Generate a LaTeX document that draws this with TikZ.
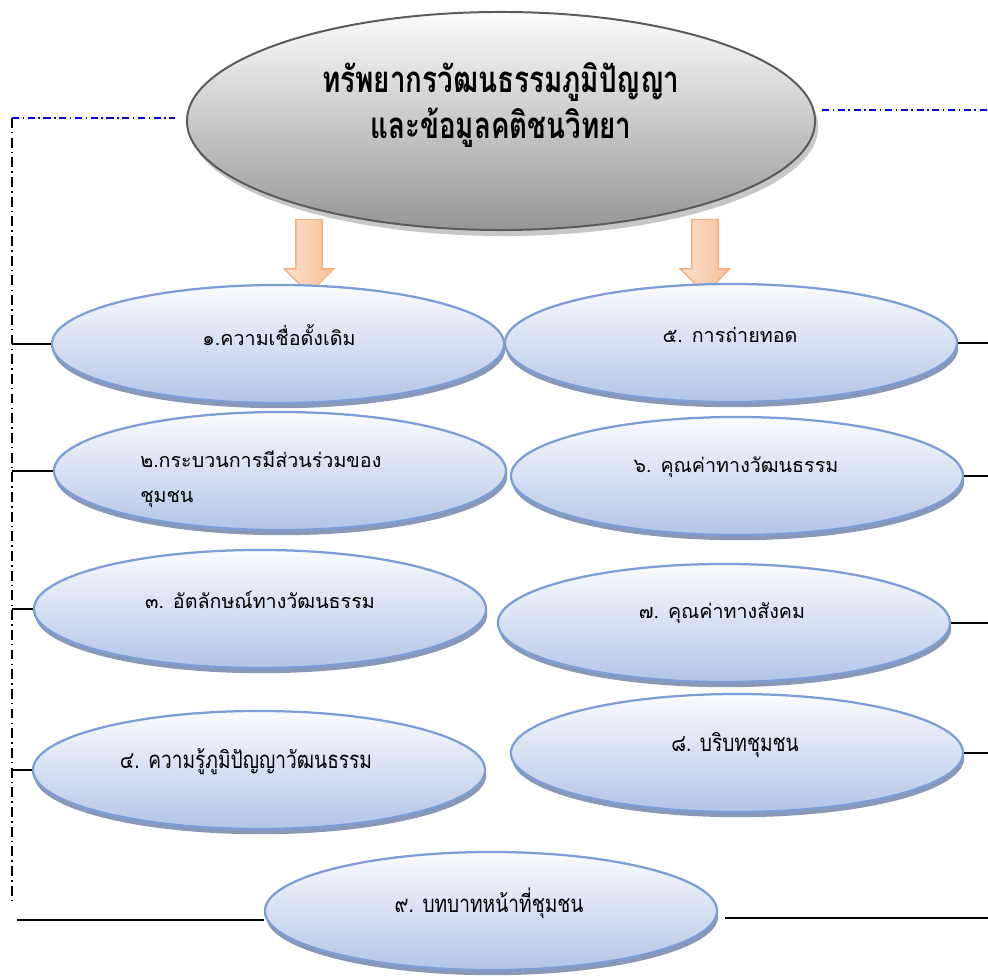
\documentclass[tikz,border=0pt]{standalone}
\usepackage{fontspec}
\newfontfamily\thaifont[Script=Thai]{Loma}
\usetikzlibrary{shapes.geometric,shapes.arrows,shadows,calc}
\tikzset{>=latex}
\definecolor{bubline}{RGB}{124,157,213}
\definecolor{bubtop}{RGB}{250,251,254}
\definecolor{bubbot}{RGB}{178,197,230}
\definecolor{bubshad}{RGB}{136,152,182}
\definecolor{topline}{RGB}{90,90,90}
\definecolor{toptop}{RGB}{252,252,252}
\definecolor{topbot}{RGB}{150,150,150}
\definecolor{arrline}{RGB}{244,177,131}
\definecolor{arrfill}{RGB}{247,190,150}
\definecolor{linkblue}{RGB}{0,0,230}
\tikzstyle{bubble}=[ellipse,draw=bubline,line width=1.6pt,top color=bubtop,bottom color=bubbot,minimum width=11.3cm,minimum height=2.95cm,inner sep=0pt,drop shadow={shadow xshift=0.03cm,shadow yshift=-0.13cm,fill=bubshad,opacity=1}]
\tikzstyle{topbubble}=[ellipse,draw=topline,line width=1.4pt,top color=toptop,bottom color=topbot,minimum width=15.7cm,minimum height=5.45cm,inner sep=0pt,drop shadow={shadow xshift=0.08cm,shadow yshift=-0.15cm,fill=black!22,opacity=1}]
\tikzstyle{blockarr}=[single arrow,draw=arrline,line width=1pt,left color=arrfill!45,right color=arrfill,rotate=-90,minimum height=1.85cm,inner xsep=0pt,inner ysep=0.31cm,text height=0pt,text depth=0pt,single arrow head extend=0.29cm]
\tikzstyle{itemtxt}=[font=\thaifont\fontsize{14}{25}\selectfont,inner sep=0pt]
\tikzstyle{narrowtxt}=[font=\thaifont\fontsize{17}{25}\selectfont,inner sep=0pt]
\tikzstyle{titletxt}=[font=\thaifont\bfseries\fontsize{26}{33}\selectfont,inner sep=0pt,align=center]
\tikzstyle{link}=[draw=black,line width=1.2pt]
\tikzstyle{bluedash}=[draw=linkblue,line width=1pt,dash pattern=on 5pt off 2.5pt on 1.2pt off 2.5pt]
\tikzstyle{blackdash}=[draw=black,line width=0.9pt,dash pattern=on 7pt off 3pt on 1pt off 3pt]

\begin{document}
\begin{tikzpicture}[x=0.025cm,y=-0.025cm]
	\useasboundingbox (0,0) rectangle (988,977);
	\def \xl {12}

	\node[topbubble] (top) at (501,121) {};
	\node[titletxt] (title) at (501,105) {\scalebox{0.76}[1]{ทรัพยากรวัฒนธรรมภูมิปัญญา}\\\scalebox{0.76}[1]{และข้อมูลคติชนวิทยา}};

	\node[blockarr] (arr1) at (309,250) {};
	\node[blockarr] (arr2) at (705,250) {};

	\node[bubble] (b1) at (278,344) {};
	\node[bubble] (b2) at (280,471) {};
	\node[bubble] (b3) at (260,609) {};
	\node[bubble] (b4) at (259,770) {};
	\node[bubble] (b5) at (731,343) {};
	\node[bubble] (b6) at (737,476) {};
	\node[bubble] (b7) at (724,623) {};
	\node[bubble] (b8) at (737,753) {};
	\node[bubble] (b9) at (491,911) {};

	\node[itemtxt] (t1) at (279,335) {๑.ความเชื่อดั้งเดิม};
	\node[itemtxt,anchor=west,align=left] (t2) at (140,479) {๒.กระบวนการมีส่วนร่วมของ\\ชุมชน};
	\node[itemtxt] (t3) at (260,600) {๓. อัตลักษณ์ทางวัฒนธรรม};
	\node[narrowtxt] (t4) at (246,762) {\scalebox{0.8}[1]{๔. ความรู้ภูมิปัญญาวัฒนธรรม}};
	\node[itemtxt] (t5) at (730,335) {๕. การถ่ายทอด};
	\node[itemtxt] (t6) at (736,467) {๖. คุณค่าทางวัฒนธรรม};
	\node[itemtxt] (t7) at (722,613) {๗. คุณค่าทางสังคม};
	\node[narrowtxt] (t8) at (735,745) {\scalebox{0.8}[1]{๘. บริบทชุมชน}};
	\node[narrowtxt] (t9) at (489,903) {\scalebox{0.8}[1]{๙. บทบาทหน้าที่ชุมชน}};

	\coordinate (lt) at (\xl,118);
	\coordinate (lb) at (\xl,905);
	\coordinate (lte) at (175,118);
	\coordinate (rts) at (822,110);
	\coordinate (rte) at (988,110);
	\coordinate (rr) at (988,0);
	\coordinate (l9) at (17,920);
	\coordinate (r9s) at (725,918);
	\coordinate (r9e) at (988,918);

	\draw[bluedash] (lt) -- (lte);
	\draw[bluedash] (rts) -- (rte);
	\draw[blackdash] (lt) -- (lb);

	\draw[link] (b1.west -| lt) -- (b1.west);
	\draw[link] (b2.west -| lt) -- (b2.west);
	\draw[link] (b3.west -| lt) -- (b3.west);
	\draw[link] (b4.west -| lt) -- (b4.west);
	\draw[link] (b5.east) -- (b5.east -| rr);
	\draw[link] (b6.east) -- (b6.east -| rr);
	\draw[link] (b7.east) -- (b7.east -| rr);
	\draw[link] (b8.east) -- (b8.east -| rr);
	\draw[link] (l9) -- (l9 -| b9.west);
	\draw[link] (r9s) -- (r9e);
\end{tikzpicture}
\end{document}
